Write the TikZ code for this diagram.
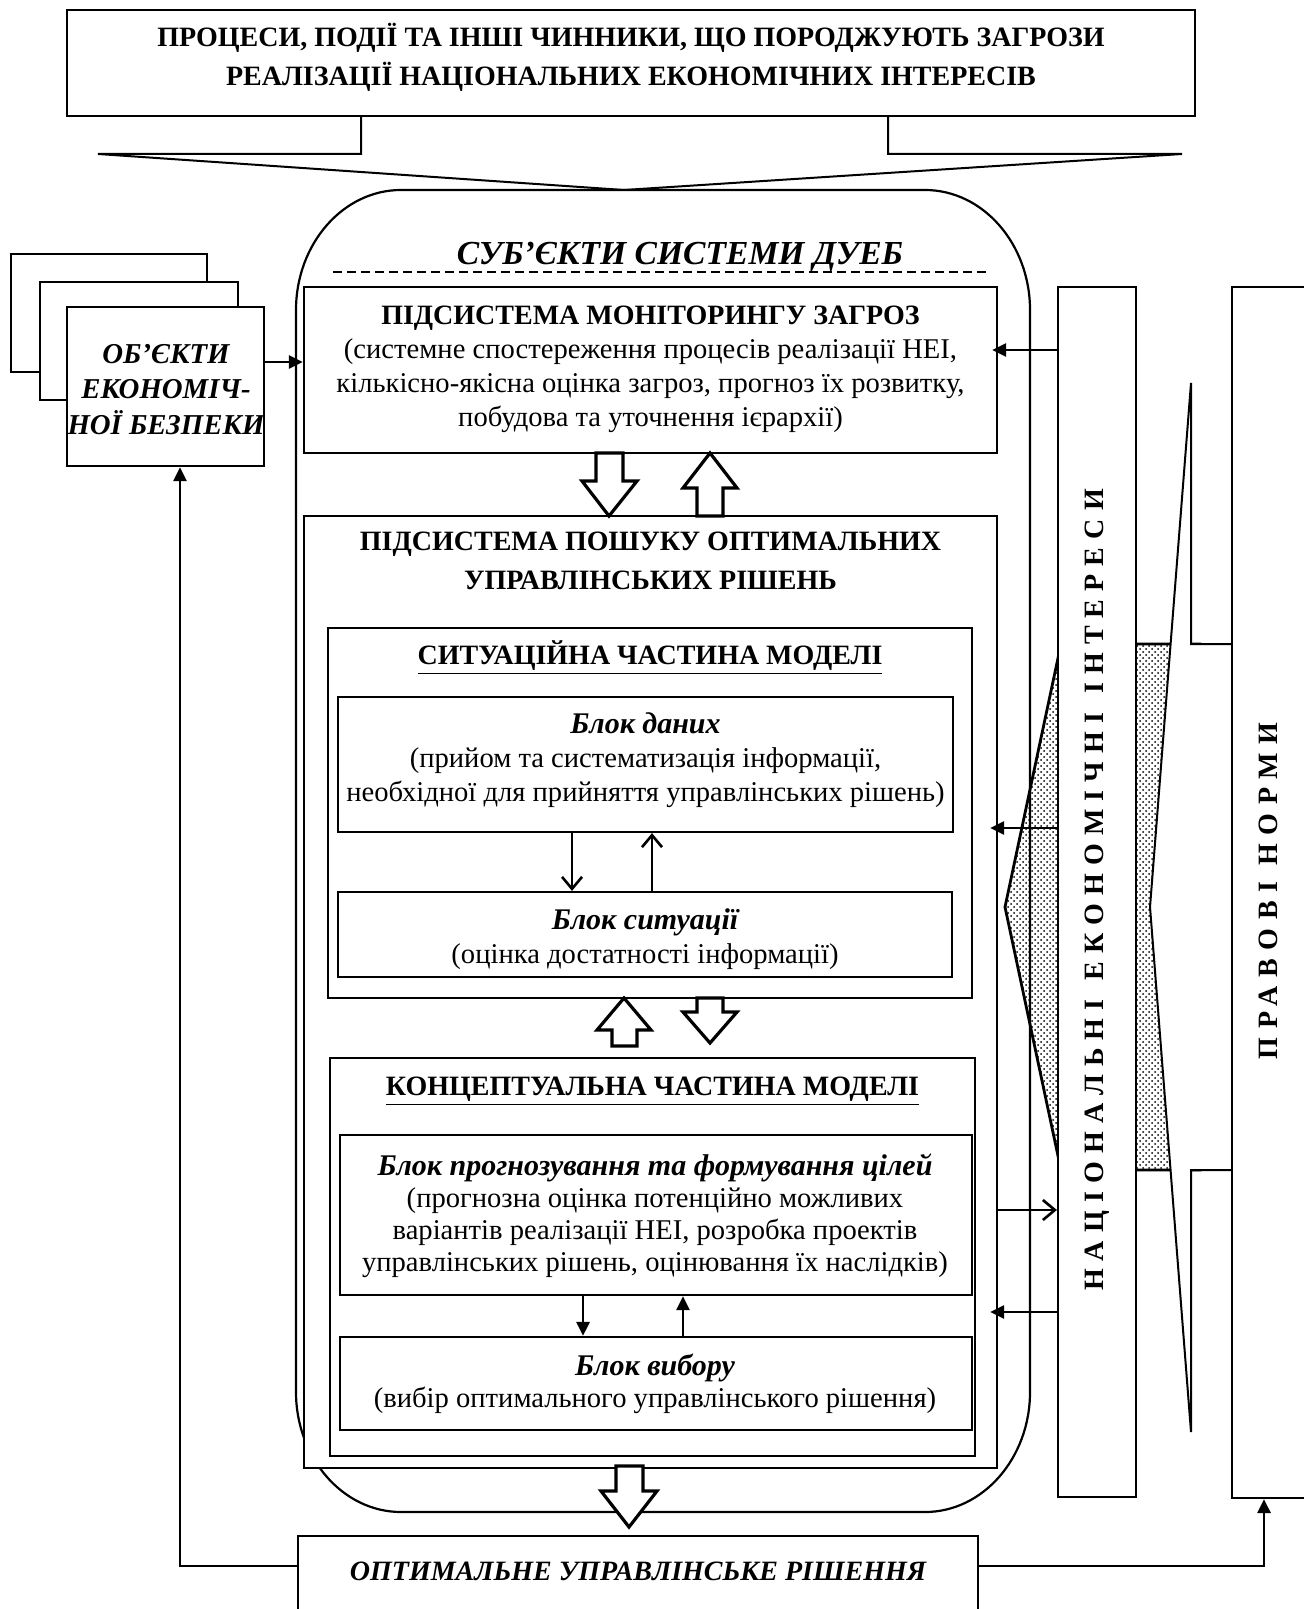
\documentclass[tikz,border=0pt]{standalone}
\usepackage{fontspec}
\setmainfont{Liberation Serif}
\newfontfamily\spacedfont[LetterSpace=29]{Liberation Serif}
\newfontfamily\spacedfontb[LetterSpace=31]{Liberation Serif}
\usetikzlibrary{arrows.meta,patterns,fit,calc}
\begin{document}
\begin{tikzpicture}[x=0.5pt,y=-0.5pt,
  box/.style={draw,line width=1.1pt,inner sep=0pt,fill=white},
  blk/.style={draw,line width=1.6pt,fill=white,line join=miter},
  con/.style={line width=1.4pt},
  ftip/.style={-{Triangle[length=7pt,width=6.5pt]}},
  otip/.style={-{Straight Barb[length=6pt,width=10pt,line width=1.3pt]}},
  txt/.style={align=center,inner sep=0pt,font=\fontsize{14.3pt}{17pt}\selectfont},
  bi/.style={font=\fontsize{15pt}{17pt}\selectfont\bfseries\itshape},
]
\useasboundingbox (0,0) rectangle (1304,1609);

% dotted wedge behind
\draw[line width=1.4pt,pattern=crosshatch dots] (1005,907) -- (1061,644) -- (1200,644) -- (1200,1170) -- (1061,1170) -- cycle;
% white left arrow
\draw[line width=1pt,fill=white] (1150,907) -- (1191,383) -- (1191,644) -- (1340,644) -- (1340,1170) -- (1191,1170) -- (1191,1432) -- cycle;
% right bars
\node[box,fit={(1232,287) (1340,1498)}] (pn) {};
\node[box,fit={(1058,287) (1136,1497)}] (nei) {};
\node[rotate=90,inner sep=0pt,font=\spacedfont\bfseries\fontsize{14pt}{14pt}\selectfont] (neitext) at (1097,890)
  {НАЦІОНАЛЬНІ\hspace{2pt} ЕКОНОМІЧНІ\hspace{2pt} ІНТЕРЕСИ};
\node[rotate=90,inner sep=0pt,font=\spacedfontb\bfseries\fontsize{14pt}{14pt}\selectfont] (pntext) at (1268,891) {ПРАВОВІ НОРМИ};

% top box and its arrow
\draw[line width=1pt] (361,116) -- (361,154) -- (98,154) -- (624,190) -- (1182,154) -- (888,154) -- (888,116);
\node[box,fit={(67,10) (1195,116)}] (top) {};
\node[txt,font=\fontsize{14pt}{19.5pt}\selectfont\bfseries] (toptext) at (631,57)
  {ПРОЦЕСИ, ПОДІЇ ТА ІНШІ ЧИННИКИ, ЩО ПОРОДЖУЮТЬ ЗАГРОЗИ\\РЕАЛІЗАЦІЇ НАЦІОНАЛЬНИХ ЕКОНОМІЧНИХ ІНТЕРЕСІВ};

% rounded subjects shape
\draw[line width=1.1pt] (401,190) -- (925,190) .. controls (983,190) and (1030,244) .. (1030,310)
  -- (1030,1392) .. controls (1030,1458) and (983,1512) .. (925,1512)
  -- (401,1512) .. controls (343,1512) and (296,1458) .. (296,1392)
  -- (296,310) .. controls (296,244) and (343,190) .. (401,190) -- cycle;
\node[txt,font=\fontsize{16.8pt}{17pt}\selectfont\bfseries\itshape] (subjtext) at (680,257) {СУБ’ЄКТИ СИСТЕМИ ДУЕБ};
\draw[line width=1pt,dash pattern=on 4.5pt off 2.5pt] (333,272) -- (988,272);

% objects boxes
\node[box,fit={(11,254) (207,372)}] (objb) {};
\node[box,fit={(40,282) (238,400)}] (objm) {};
\node[box,fit={(67,307) (264,466)}] (objf) {};
\node[txt,font=\fontsize{14.4pt}{17.75pt}\selectfont\bfseries\itshape] (objtext) at (166,389.5) {ОБ’ЄКТИ\\ЕКОНОМІЧ-\\НОЇ БЕЗПЕКИ};

% monitoring
\node[box,fit={(304,287) (997,453)}] (mon) {};
\node[txt] (montext) at (650.5,369) {{\fontsize{14pt}{17pt}\selectfont\bfseries ПІДСИСТЕМА МОНІТОРИНГУ ЗАГРОЗ}\\(системне спостереження процесів реалізації НЕІ,\\кількісно-якісна оцінка загроз, прогноз їх розвитку,\\побудова та уточнення ієрархії)};

% optimisation subsystem
\node[box,fit={(304,516) (997,1468)}] (opt) {};
\node[txt,font=\fontsize{14pt}{19.5pt}\selectfont\bfseries] (opttext) at (650.5,560.5) {ПІДСИСТЕМА ПОШУКУ ОПТИМАЛЬНИХ\\УПРАВЛІНСЬКИХ РІШЕНЬ};

\node[box,fit={(328,628) (972,998)}] (situ) {};
\node[txt,font=\fontsize{14pt}{17pt}\selectfont\bfseries] (situtext) at (650,658) {\underline{СИТУАЦІЙНА ЧАСТИНА МОДЕЛІ}};
\node[box,fit={(338,697) (953,832)}] (dat) {};
\node[txt] (dattext) at (645.5,760) {{\fontsize{15pt}{17pt}\selectfont\bfseries\itshape Блок даних}\\(прийом та систематизація інформації,\\необхідної для прийняття управлінських рішень)};
\node[box,fit={(338,892) (952,977)}] (sit) {};
\node[txt] (sittext) at (645,939) {{\fontsize{15pt}{17pt}\selectfont\bfseries\itshape Блок ситуації}\\(оцінка достатності інформації)};

\node[box,fit={(330,1058) (975,1456)}] (conc) {};
\node[txt,font=\fontsize{14pt}{17pt}\selectfont\bfseries] (conctext) at (652.5,1091) {\underline{КОНЦЕПТУАЛЬНА ЧАСТИНА МОДЕЛІ}};
\node[box,fit={(340,1135) (972,1295)}] (prog) {};
\node[txt,font=\fontsize{14.3pt}{16pt}\selectfont] (progtext) at (655,1216) {{\fontsize{15pt}{16pt}\selectfont\bfseries\itshape Блок прогнозування та формування цілей}\\(прогнозна оцінка потенційно можливих\\варіантів реалізації НЕІ, розробка проектів\\управлінських рішень, оцінювання їх наслідків)};
\node[box,fit={(340,1337) (972,1430)}] (cho) {};
\node[txt,font=\fontsize{14.3pt}{16pt}\selectfont] (chotext) at (655,1384) {{\fontsize{15pt}{16pt}\selectfont\bfseries\itshape Блок вибору}\\(вибір оптимального управлінського рішення)};

% bottom box
\node[box,fit={(298,1536) (978,1640)}] (bot) {};
\node[txt,font=\fontsize{14pt}{17pt}\selectfont\bfseries\itshape] (bottext) at (638,1571) {ОПТИМАЛЬНЕ УПРАВЛІНСЬКЕ РІШЕННЯ};

% block arrows
\draw[blk] (596,453) -- (623,453) -- (623,481) -- (637,481) -- (609,516) -- (582,481) -- (596,481) -- cycle;
\draw[blk] (710,453) -- (737,488) -- (723,488) -- (723,516) -- (697,516) -- (697,488) -- (683,488) -- cycle;
\draw[blk] (624,998) -- (651,1030) -- (637,1030) -- (637,1046) -- (612,1046) -- (612,1030) -- (597,1030) -- cycle;
\draw[blk] (697,998) -- (723,998) -- (723,1012) -- (737,1012) -- (710,1043) -- (683,1012) -- (697,1012) -- cycle;
\draw[blk] (616,1466) -- (643,1466) -- (643,1491) -- (657,1491) -- (629,1527) -- (601,1491) -- (616,1491) -- cycle;

% connectors
\draw[con,ftip] (objf.east |- 0,362) -- (mon.west |- 0,362);
\draw[con,ftip,shorten >=-3pt] (nei.west |- 0,350) -- (mon.east |- 0,350);
\draw[con,ftip,shorten >=-4pt] (nei.west |- 0,828) -- (opt.east |- 0,828);
\draw[con,otip] (opt.east |- 0,1210) -- (nei.west |- 0,1210);
\draw[con,ftip,shorten >=-4pt] (nei.west |- 0,1312) -- (opt.east |- 0,1312);
\draw[con,otip] (dat.south -| 572,0) -- (sit.north -| 572,0);
\draw[con,otip] (sit.north -| 652,0) -- (dat.south -| 652,0);
\draw[con,ftip] (prog.south -| 583,0) -- (cho.north -| 583,0);
\draw[con,ftip] (cho.north -| 683,0) -- (prog.south -| 683,0);
\draw[con,ftip] (bot.west |- 0,1566) -- (180,1566) -- (objf.south -| 180,0);
\draw[con,ftip] (bot.east |- 0,1566) -- (1264,1566) -- (pn.south -| 1264,0);
\end{tikzpicture}
\end{document}
